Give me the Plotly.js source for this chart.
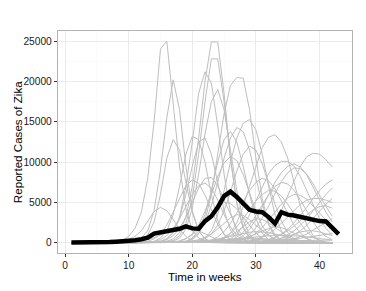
<!DOCTYPE html>
<html>
<head>
<meta charset="utf-8">
<script src="https://cdn.plot.ly/plotly-3.0.1.min.js"></script>
<style>html,body{margin:0;padding:0;background:#fff;}#chart{width:366px;height:291px;}</style>
</head>
<body>
<div id="chart"></div>
<script>
// Weeks for simulated series (1..42) and observed series (1..43)
const simWeeks = [1,2,3,4,5,6,7,8,9,10,11,12,13,14,15,16,17,18,19,20,21,22,23,24,25,26,27,28,29,30,31,32,33,34,35,36,37,38,39,40,41,42];
const obsWeeks = [1,2,3,4,5,6,7,8,9,10,11,12,13,14,15,16,17,18,19,20,21,22,23,24,25,26,27,28,29,30,31,32,33,34,35,36,37,38,39,40,41,42,43];

// Observed reported cases (thick black line)
const observed = [50,40,30,40,50,70,100,150,180,250,330,450,650,1150,1300,1450,1700,1750,2050,1800,1750,2700,3300,4400,5800,6350,5700,4900,4100,3900,3800,3200,2400,3800,3500,3400,3200,3000,2800,2700,2650,1900,1100];

// Simulated epidemics (grey lines)
const sim01 = [0,0,0,0,10,20,40,100,300,800, 1800,3800,8000,15000,24000,25000,17500,9500,4200,1600, 600,200,80,40,30,20,20,10,10,10, 10,10,0,0,0,0,0,0,0,0,0,0];
const sim02 = [0,0,0,0,0,10,20,40,60,100, 250,600,1500,4000,9000,15500,20200,16500,9500,4000, 1500,500,150,60,30,20,10,10,0,0, 0,0,0,0,0,0,0,0,0,0,0,0];
const sim03 = [0,0,0,0,0,0,10,20,50,80, 150,400,1000,2600,6000,10500,12800,11500,7500,3800, 1500,500,150,60,30,20,10,0,0,0, 0,0,0,0,0,0,0,0,0,0,0,0];
const sim04 = [0,0,0,0,10,20,50,100,200,400, 800,1500,2700,3900,4400,4000,2900,1700,800,300, 100,50,20,10,0,0,0,0,0,0, 0,0,0,0,0,0,0,0,0,0,0,0];
const sim05 = [0,0,0,0,0,0,0,0,10,20, 30,40,60,90,130,200,500,1300,3200,7000, 13000,20000,24900,24900,18500,10500,4800,1800,600,200, 80,40,20,10,0,0,0,0,0,0,0,0];
const sim06 = [0,0,0,0,0,0,0,0,0,10, 20,30,50,80,120,180,300,900,2400,5500, 11000,17500,22800,22800,17500,10500,5000,2000,700,250, 100,40,20,10,0,0,0,0,0,0,0,0];
const sim07 = [0,0,0,0,0,0,0,0,10,20, 30,50,80,120,200,500,1300,3200,7000,12500, 18500,21200,19800,14500,8500,3800,1400,500,150,60, 30,10,0,0,0,0,0,0,0,0,0,0];
const sim08 = [0,0,0,0,0,0,0,0,0,10, 20,30,50,80,120,150,200,600,1700,4300, 8500,13500,17500,19000,16500,11500,6500,2800,1000,350, 120,50,20,10,0,0,0,0,0,0,0,0];
const sim09 = [0,0,0,0,0,0,0,0,0,0, 10,20,30,40,60,80,100,120,150,400, 1100,2800,6000,11000,16000,19500,20500,20400,16500,10500, 5500,2200,800,250,100,40,20,10,0,0,0,0];
const sim10 = [0,0,0,0,0,0,0,0,0,0, 0,10,20,30,40,60,80,100,130,150, 200,600,1500,3500,6500,10000,13000,14800,15300,14000, 11000,7000,3500,1500,500,150,60,20,10,0,0,0];
const sim11 = [0,0,0,0,0,0,0,0,0,10, 20,30,40,60,80,100,120,150,200,600, 1500,3500,6500,10000,12800,13800,12500,9500,6000,3000, 1200,400,150,60,20,10,0,0,0,0,0,0];
const sim12 = [0,0,0,0,0,0,0,10,20,30, 50,80,120,200,600,1500,3500,7000,11000,13200, 12800,10000,6000,2800,1000,300,100,40,20,10, 0,0,0,0,0,0,0,0,0,0,0,0];
const sim13 = [0,0,0,0,0,0,0,0,10,20, 30,50,80,120,200,500,1300,3000,6000,9500, 12500,13000,11000,7500,4000,1600,500,150,50,20, 10,0,0,0,0,0,0,0,0,0,0,0];
const sim14 = [0,0,0,0,0,0,0,0,0,0, 0,0,10,20,30,40,50,60,80,100, 120,150,180,200,500,1200,2500,4500,7000,9500, 11800,13100,13400,12500,10500,7500,4500,2200,900,300,100,40];
const sim15 = [0,0,0,0,0,0,0,0,0,0, 0,0,0,0,10,20,30,40,50,60, 70,80,90,100,110,120,140,160,200,400, 800,1500,2500,4000,5800,7800,9500,10700,11100,11000,10300,9400];
const sim16 = [0,0,0,0,0,0,0,0,0,0, 0,0,10,20,30,40,50,60,70,80, 100,120,140,170,200,500,1100,2100,3500,5200, 7000,8600,9600,10100,10100,9500,8200,6500,4600,3000,1800,1000];
const sim17 = [0,0,0,0,0,0,0,0,0,0, 0,0,0,10,20,30,40,50,60,70, 80,90,100,120,140,170,200,500,1000,1900, 3100,4600,6200,7600,8700,9300,9200,8500,7300,5900,4500,3300];
const sim18 = [0,0,0,0,0,0,0,0,0,0, 0,0,10,20,30,40,50,60,70,80, 90,100,120,140,170,200,400,900,1700,2900, 4400,6000,7500,8700,9500,9800,9400,8400,6900,5300,3800,2600];
const sim19 = [0,0,0,0,0,0,10,20,40,70, 100,150,200,500,1100,2200,3800,5600,7100,7800, 7400,5900,4000,2300,1100,450,150,60,20,10, 0,0,0,0,0,0,0,0,0,0,0,0];
const sim20 = [0,0,0,0,0,0,0,10,20,40, 60,90,120,150,400,900,1800,3000,4500,6000, 7100,7400,6800,5300,3500,2000,900,350,120,40, 10,0,0,0,0,0,0,0,0,0,0,0];
const sim21 = [0,0,0,0,0,0,0,0,10,20, 40,60,90,120,150,400,900,1800,3200,5000, 6800,8000,8100,7100,5400,3500,1800,800,300,100, 30,10,0,0,0,0,0,0,0,0,0,0];
const sim22 = [0,0,0,0,0,0,10,20,40,80, 150,250,400,650,950,1300,1650,1900,2000,1850, 1500,1100,700,400,200,100,40,10,0,0, 0,0,0,0,0,0,0,0,0,0,0,0];
const sim23 = [0,0,0,0,0,0,0,0,0,0, 10,20,30,40,60,80,100,120,200,500, 1200,2500,4600,7500,10500,13000,14300,13800,11500,8000, 4800,2400,1000,350,120,40,10,0,0,0,0,0];
const sim24 = [0,0,0,0,0,0,0,0,0,0, 0,10,20,30,40,60,80,100,130,160, 200,500,1100,2200,4000,6300,8900,11000,12000,11500, 9800,7300,4800,2700,1300,500,180,60,20,0,0,0];
const sim25 = [0,0,0,0,0,0,0,0,0,10, 20,30,40,60,80,100,150,200,500,1100, 2200,3900,6000,8200,9900,10700,10200,8500,6200,3900, 2100,1000,400,150,50,20,0,0,0,0,0,0];
const sim26 = [0,0,0,0,0,0,0,0,0,0, 0,10,20,30,40,50,60,80,100,120, 140,150,350,750,1400,2400,3700,5100,6500,7500, 8000,7700,6700,5200,3600,2200,1200,550,200,80,30,10];
const sim27 = [0,0,0,0,0,0,0,0,0,0, 0,0,10,20,30,40,50,60,80,100, 120,140,150,350,700,1200,2000,3000,4100,5200, 6000,6500,6400,5800,4800,3600,2400,1400,700,300,100,40];
const sim28 = [0,0,0,0,0,0,0,0,0,0, 0,0,0,0,0,10,20,30,40,50, 60,70,80,90,90,100,110,120,140,160, 200,400,700,1100,1700,2500,3400,4400,5500,6500,7300,7800];
const sim29 = [0,0,0,0,0,0,0,0,0,0, 0,0,0,0,0,0,10,20,30,40, 50,60,70,80,90,100,100,110,120,110, 100,200,350,600,1000,1500,2200,3000,4000,5000,6000,6800];
const sim30 = [0,0,0,0,0,0,0,0,0,0, 0,0,0,0,10,20,30,40,50,60, 70,80,90,100,100,100,100,100,200,400, 700,1100,1700,2400,3200,4000,4800,5300,5500,5500,5300,5000];
const sim31 = [0,0,0,0,0,0,0,0,0,0, 0,0,0,0,0,10,20,30,40,50, 60,70,80,80,90,90,100,100,100,100, 200,350,600,1000,1500,2100,2800,3500,4100,4500,4600,4300];
const sim32 = [0,0,0,0,0,0,0,0,0,0, 0,0,0,0,0,0,0,10,20,30, 40,50,60,70,80,80,90,90,100,100, 100,100,200,350,600,1000,1500,2200,3000,3900,4800,5500];
const sim33 = [0,0,0,0,0,0,0,0,0,0, 0,0,0,10,20,30,40,50,60,70, 80,90,100,100,100,100,200,400,700,1200, 1900,2800,3800,4800,5600,6000,5900,5400,4600,3700,2800,2000];
const sim34 = [0,0,0,0,0,0,0,0,0,0, 0,0,10,20,30,40,50,60,70,80, 90,100,110,120,150,350,700,1300,2200,3400, 4700,6000,7000,7500,7300,6500,5300,3900,2600,1500,800,400];
const sim35 = [0,0,0,0,0,0,0,0,0,10, 20,30,40,50,70,90,100,250,550,1000, 1700,2600,3600,4500,5000,4900,4200,3200,2100,1200, 600,250,100,40,10,0,0,0,0,0,0,0];
const sim36 = [0,0,0,0,0,0,0,0,0,0, 10,20,30,40,50,60,80,90,100,200, 400,700,1100,1700,2400,3100,3500,3400,2900,2200, 1500,900,450,200,80,30,10,0,0,0,0,0];
const sim37 = [0,0,0,0,0,0,0,0,0,0, 0,10,20,30,40,50,60,70,80,90, 100,100,200,350,600,900,1400,2000,2600,3000, 2900,2500,1900,1300,800,400,200,80,30,10,0,0];
const sim38 = [0,0,0,0,0,0,0,0,0,0, 0,0,0,10,20,30,40,50,60,70, 80,80,90,90,100,200,350,550,800,1100, 1500,1800,2000,1900,1600,1200,800,500,250,100,40,10];
const sim39 = [0,0,0,0,0,0,0,0,0,0, 0,0,0,0,10,20,30,40,50,60, 60,70,70,80,80,90,90,90,100,100, 100,100,100,200,300,500,800,1100,1600,2100,2600,3000];
const sim40 = [0,0,0,0,0,0,0,0,0,0, 0,0,0,0,0,10,20,30,40,50, 60,60,70,70,80,80,90,90,90,100, 150,250,400,550,800,1100,1350,1500,1500,1350,1150,900];
const sim41 = [0,0,0,0,0,0,0,0,0,0, 0,10,20,40,60,90,130,170,210,250, 280,300,310,300,280,250,210,170,130,100, 70,50,30,20,10,0,0,0,0,0,0,0];
const sim42 = [0,0,0,0,0,0,0,0,0,0, 0,0,0,10,20,30,50,70,100,130, 170,220,280,340,400,450,490,510,500,470, 420,360,290,230,170,120,80,50,30,20,10,0];
const sim43 = [0,0,0,0,0,0,0,0,0,0, 0,0,10,20,30,40,60,80,100,130, 160,200,250,300,360,430,510,600,690,780, 860,920,960,970,950,900,830,740,640,540,440,350];
const sim44 = [0,0,0,0,0,0,0,0,0,0, 0,0,0,0,10,20,30,40,50,60, 70,80,90,100,110,120,130,140,160,180, 210,250,300,360,430,510,600,700,810,920,1040,1160];
const sim45 = [0,0,0,0,0,0,0,0,0,0, 0,0,0,10,20,30,40,60,80,110, 150,200,260,330,400,470,530,570,590,580, 550,500,440,380,320,260,210,160,120,90,60,40];
const sim46 = [0,0,0,0,0,0,0,0,0,0, 0,0,0,0,0,10,20,30,40,50, 60,80,90,100,120,130,140,160,170,180, 200,210,230,240,250,270,280,300,310,330,340,350];
const sim47 = [0,0,0,0,0,0,0,0,0,0, 0,0,0,0,10,20,30,40,60,80, 100,120,140,150,150,140,120,100,80,60, 40,30,20,10,0,0,0,0,0,0,0,0];
const sim48 = [0,0,0,0,0,0,0,0,0,0, 0,0,0,10,20,30,40,60,80,120, 170,250,350,480,640,820,1000,1180,1320,1400, 1380,1280,1100,880,650,450,290,170,90,50,20,10];

const simSeries = [sim01,sim02,sim03,sim04,sim05,sim06,sim07,sim08,sim09,sim10,sim11,sim12,sim13,sim14,sim15,sim16,sim17,sim18,sim19,sim20,sim21,sim22,sim23,sim24,sim25,sim26,sim27,sim28,sim29,sim30,sim31,sim32,sim33,sim34,sim35,sim36,sim37,sim38,sim39,sim40,sim41,sim42,sim43,sim44,sim45,sim46,sim47,sim48];

const xTicks = [0,10,20,30,40];
const yTicks = [0,5000,10000,15000,20000,25000];
const xMinor = [5,15,25,35,45];
const yMinor = [2500,7500,12500,17500,22500];

const traces = simSeries.map(s => ({
  x: simWeeks, y: s, type: 'scatter', mode: 'lines',
  line: {color: '#BEBEBE', width: 1}, hoverinfo: 'skip'
}));
traces.push({
  x: obsWeeks, y: observed, type: 'scatter', mode: 'lines',
  line: {color: '#000000', width: 4.5}
});

const fontFam = 'Liberation Sans, Arial, Helvetica, sans-serif';
const axisCommon = {
  ticks: 'outside', ticklen: 3, tickwidth: 1, tickcolor: '#333333',
  tickfont: {family: fontFam, size: 10.2, color: '#1a1a1a'},
  showgrid: true, gridcolor: '#EBEBEB', gridwidth: 1,
  zeroline: false, showline: true, mirror: true,
  linecolor: '#B3B3B3', linewidth: 1.2
};

const layout = {
  width: 366, height: 291,
  margin: {l: 58, r: 14, t: 31, b: 38, pad: 0},
  paper_bgcolor: '#ffffff', plot_bgcolor: '#ffffff',
  showlegend: false,
  xaxis: Object.assign({}, axisCommon, {
    range: [-1.1, 45.1], tickvals: xTicks, ticktext: xTicks.map(String),
    minor: {tickvals: xMinor, showgrid: true, gridcolor: '#FAFAFA', ticks: ''}
  }),
  yaxis: Object.assign({}, axisCommon, {
    range: [-1250, 26250], tickvals: yTicks, ticktext: yTicks.map(String),
    minor: {tickvals: yMinor, showgrid: true, gridcolor: '#FAFAFA', ticks: ''}
  }),
  annotations: [
    {text: 'Time in weeks', xref: 'paper', yref: 'paper', x: 0.5, y: -0.107,
     xanchor: 'center', yanchor: 'middle', showarrow: false,
     font: {family: fontFam, size: 11.6, color: '#000000'}},
    {text: 'Reported Cases of Zika', xref: 'paper', yref: 'paper', x: -0.139, y: 0.5,
     xanchor: 'center', yanchor: 'middle', textangle: -90, showarrow: false,
     font: {family: fontFam, size: 11.6, color: '#000000'}}
  ]
};

Plotly.newPlot('chart', traces, layout, {displayModeBar: false, staticPlot: true});
</script>
</body>
</html>
